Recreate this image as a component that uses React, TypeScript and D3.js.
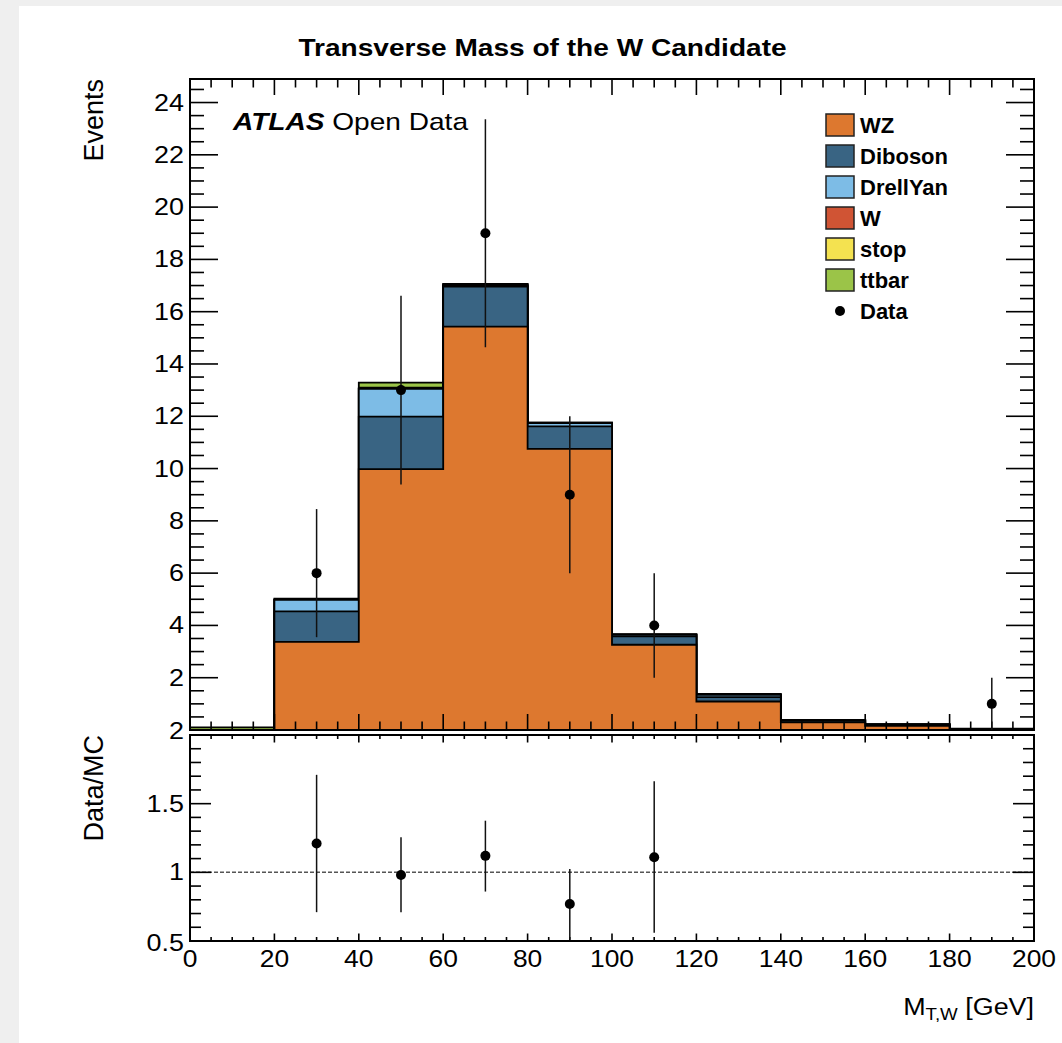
import React from "react";
import * as d3 from "d3";

// ---------- data ----------
const binEdges = [0, 20, 40, 60, 80, 100, 120, 140, 160, 180, 200];
const wz = [0, 3.37, 9.98, 15.43, 10.75, 3.26, 1.09, 0.29, 0.16, 0.02];
const diboson = [0, 1.17, 2.01, 1.53, 0.86, 0.32, 0.17, 0.06, 0.04, 0.02];
const drellYan = [0, 0.44, 1.06, 0.05, 0.13, 0.06, 0.08, 0.02, 0.01, 0];
const wJets = [0, 0, 0, 0, 0, 0, 0, 0, 0, 0];
const stop = [0, 0.02, 0.04, 0.03, 0.02, 0.02, 0.02, 0.01, 0, 0];
const ttbar = [0.1, 0.02, 0.2, 0.02, 0, 0.01, 0.02, 0.01, 0, 0.01];

const sampleNames = ["WZ", "Diboson", "DrellYan", "W", "stop", "ttbar"];
const sampleColors = ["#dd782f", "#396483", "#7dbce6", "#d05434", "#f4e250", "#9bc448"];
const sampleValues = [wz, diboson, drellYan, wJets, stop, ttbar];

const dataX = [30, 50, 70, 90, 110, 190];
const dataY = [6, 13, 19, 9, 4, 1];
const dataErr = [2.45, 3.61, 4.36, 3, 2, 1];

const ratioX = [30, 50, 70, 90, 110];
const ratioY = [1.21, 0.98, 1.12, 0.77, 1.11];
const ratioLow = [0.71, 0.71, 0.86, 0.51, 0.56];
const ratioHigh = [1.71, 1.255, 1.376, 1.024, 1.663];

const xTicks = [0, 20, 40, 60, 80, 100, 120, 140, 160, 180, 200];
const yTicksMain = [2, 4, 6, 8, 10, 12, 14, 16, 18, 20, 22, 24];
const yTicksRatio = [0.5, 1, 1.5, 2];
const ratioTickLabels = ["0.5", "1", "1.5", "2"];

// ---------- layout ----------
const W = 1062;
const H = 1043;
const FONT = "'Liberation Sans', Arial, Helvetica, sans-serif";
const L = 190, R = 1034;
const mainTop = 79, mainBot = 730;
const ratTop = 735, ratBot = 941;
const SX = 1.17; // horizontal stretch of the original canvas text

export default function App() {
  const x = d3.scaleLinear().domain([0, 200]).range([L, R]);
  const y = d3.scaleLinear().domain([0, 24.9]).range([mainBot, mainTop]);
  const yr = d3.scaleLinear().domain([0.5, 2]).range([ratBot, ratTop]);

  const cumulative: number[][] = [];
  sampleValues.forEach((vals, k) => {
    cumulative.push(vals.map((v, i) => v + (k > 0 ? cumulative[k - 1][i] : 0)));
  });

  const stepPath = (vals: number[]) => {
    const p = d3.path();
    p.moveTo(x(binEdges[0]), y(0));
    vals.forEach((v, i) => {
      p.lineTo(x(binEdges[i]), y(v));
      p.lineTo(x(binEdges[i + 1]), y(v));
    });
    p.lineTo(x(binEdges[binEdges.length - 1]), y(0));
    p.closePath();
    return p.toString();
  };

  const minorX = d3.range(0, 200.001, 5);
  const minorYMain = d3.range(0, 24.9, 0.5);
  const minorYRatio = d3.range(0.5, 2.0001, 0.1);
  const isMajorX = (v: number) => Math.abs(v % 20) < 1e-6;
  const isMajorYMain = (v: number) => Math.abs(v % 2) < 1e-6;
  const isMajorYRatio = (v: number) => Math.abs((v * 2) % 1) < 1e-6 || Math.abs((v * 2) % 1 - 1) < 1e-6;

  const tickStroke = { stroke: "#000", strokeWidth: 1.6 };

  const legendRows = [...sampleNames.map((n, i) => ({ name: n, color: sampleColors[i] })), { name: "Data", color: null as string | null }];

  const T = (tx: number, ty: number, s = SX) => `translate(${tx},${ty}) scale(${s},1)`;

  return (
    <svg width={W} height={H} style={{ position: "absolute", left: 0, top: 0, fontFamily: FONT }}>
      <rect x={0} y={0} width={W} height={H} fill="#efefef" />
      <rect x={19} y={6} width={W - 19} height={H - 6} fill="#fff" />

      {/* title */}
      <text transform={T(542.5, 56)} textAnchor="middle" fontSize={24} fontWeight="bold" fill="#000">
        Transverse Mass of the W Candidate
      </text>

      {/* stacked histograms: draw from total down */}
      {cumulative.map((c, k) => k).reverse().map((k) => (
        <path key={k} d={stepPath(cumulative[k])} fill={sampleColors[k]} stroke="#000" strokeWidth={1.8} strokeLinejoin="miter" />
      ))}

      {/* main panel ticks */}
      {minorX.map((v) => {
        const len = isMajorX(v) ? 16 : 8.5;
        return (
          <g key={"mx" + v}>
            <line x1={x(v)} x2={x(v)} y1={mainBot} y2={mainBot - len} {...tickStroke} />
            <line x1={x(v)} x2={x(v)} y1={mainTop} y2={mainTop + len} {...tickStroke} />
          </g>
        );
      })}
      {minorYMain.map((v) => {
        const len = isMajorYMain(v) ? 28 : 14;
        return (
          <g key={"my" + v}>
            <line x1={L} x2={L + len} y1={y(v)} y2={y(v)} {...tickStroke} />
            <line x1={R} x2={R - len} y1={y(v)} y2={y(v)} {...tickStroke} />
          </g>
        );
      })}
      <rect x={L} y={mainTop} width={R - L} height={mainBot - mainTop} fill="none" stroke="#000" strokeWidth={2} />

      {/* data points */}
      {dataX.map((dx, i) => (
        <g key={"d" + i}>
          <line x1={x(dx)} x2={x(dx)} y1={y(Math.max(0, dataY[i] - dataErr[i]))} y2={y(dataY[i] + dataErr[i])} stroke="#111" strokeWidth={1.5} />
          <circle cx={x(dx)} cy={y(dataY[i])} r={5} fill="#000" />
        </g>
      ))}

      {/* main y labels */}
      {yTicksMain.map((v) => (
        <text key={"yl" + v} transform={T(L - 6, y(v) + 8)} textAnchor="end" fontSize={23} fill="#000">
          {v}
        </text>
      ))}
      <text transform={`translate(103, ${mainTop}) scale(1.05,1) rotate(-90)`} textAnchor="end" fontSize={27} fill="#000">
        Events
      </text>

      {/* ATLAS label */}
      <text transform={T(233, 130)} fontSize={24} fill="#000">
        <tspan fontWeight="bold" fontStyle="italic">ATLAS</tspan>
        <tspan> Open Data</tspan>
      </text>

      {/* legend */}
      {legendRows.map((r, i) => {
        const cy = 125 + i * 31;
        return (
          <g key={"lg" + r.name}>
            {r.color ? (
              <rect x={826} y={cy - 11} width={28} height={22} fill={r.color} stroke="#222" strokeWidth={1.5} />
            ) : (
              <circle cx={840} cy={cy} r={5} fill="#000" />
            )}
            <text x={860} y={cy + 8} fontSize={22} fontWeight="bold" fill="#000">
              {r.name}
            </text>
          </g>
        );
      })}

      {/* ratio panel */}
      <line x1={L} x2={R} y1={yr(1)} y2={yr(1)} stroke="#555" strokeWidth={1.5} strokeDasharray="4 2" />
      {minorX.map((v) => {
        const len = isMajorX(v) ? 7.5 : 4;
        return (
          <g key={"rx" + v}>
            <line x1={x(v)} x2={x(v)} y1={ratBot} y2={ratBot - len} {...tickStroke} />
            <line x1={x(v)} x2={x(v)} y1={ratTop} y2={ratTop + len} {...tickStroke} />
          </g>
        );
      })}
      {minorYRatio.map((v) => {
        const len = isMajorYRatio(v) ? 21 : 11;
        return (
          <g key={"ry" + v}>
            <line x1={L} x2={L + len} y1={yr(v)} y2={yr(v)} {...tickStroke} />
            <line x1={R} x2={R - len} y1={yr(v)} y2={yr(v)} {...tickStroke} />
          </g>
        );
      })}
      <rect x={L} y={ratTop} width={R - L} height={ratBot - ratTop} fill="none" stroke="#000" strokeWidth={2} />

      {ratioX.map((rx, i) => (
        <g key={"r" + i}>
          <line x1={x(rx)} x2={x(rx)} y1={yr(Math.max(0.5, ratioLow[i]))} y2={yr(Math.min(2, ratioHigh[i]))} stroke="#111" strokeWidth={1.5} />
          <circle cx={x(rx)} cy={yr(ratioY[i])} r={5} fill="#000" />
        </g>
      ))}

      {yTicksRatio.map((v, i) => (
        <text
          key={"ryl" + v}
          transform={T(L - 6, yr(v) + 8 + (v === 2 ? -4 : 0) + (v === 0.5 ? 2 : 0))}
          textAnchor="end"
          fontSize={23}
          fill="#000"
        >
          {ratioTickLabels[i]}
        </text>
      ))}
      <text transform={`translate(103, ${ratTop}) scale(1.05,1) rotate(-90)`} textAnchor="end" fontSize={27} fill="#000">
        Data/MC
      </text>

      {/* x labels */}
      {xTicks.map((v) => (
        <text key={"xl" + v} transform={T(x(v), 967, 1.1)} textAnchor="middle" fontSize={24} fill="#000">
          {v}
        </text>
      ))}
      <text transform={T(R, 1015)} textAnchor="end" fontSize={23} fill="#000">
        <tspan>M</tspan>
        <tspan fontSize={16} dy={5}>T,W</tspan>
        <tspan dy={-5}> [GeV]</tspan>
      </text>
    </svg>
  );
}
